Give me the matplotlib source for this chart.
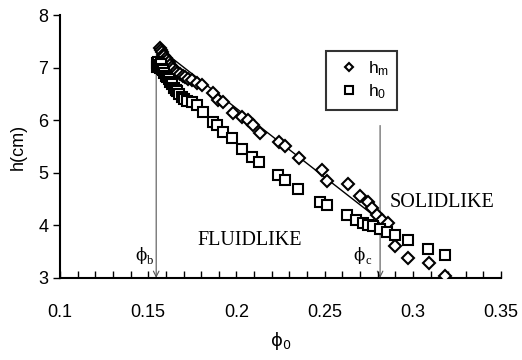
import matplotlib
matplotlib.use("Agg")
import matplotlib.pyplot as plt
from matplotlib.ticker import MultipleLocator

plt.rcParams['font.family'] = ['Liberation Sans', 'DejaVu Sans']
plt.rcParams['mathtext.fontset'] = 'custom'
plt.rcParams['mathtext.rm'] = 'Liberation Sans'

# h_m (diamonds)
phi_m = [0.1565, 0.1572, 0.1578, 0.1585, 0.1592, 0.1600, 0.1608, 0.1615, 0.1625,
         0.1633, 0.1642, 0.1655, 0.1665, 0.1680, 0.1695, 0.1710, 0.1725, 0.1747,
         0.1775, 0.1803, 0.1869, 0.1897, 0.1926, 0.1983, 0.2030, 0.2068, 0.2096,
         0.2134, 0.2243, 0.2276, 0.2357, 0.2484, 0.2515, 0.2634, 0.2701, 0.2748,
         0.2767, 0.2795, 0.2824, 0.2861, 0.2899, 0.2974, 0.3094, 0.3183]
h_m = [7.38, 7.33, 7.30, 7.25, 7.22, 7.18, 7.15, 7.10, 7.05,
       7.02, 6.98, 6.93, 6.90, 6.88, 6.85, 6.82, 6.78, 6.76,
       6.70, 6.67, 6.51, 6.38, 6.35, 6.13, 6.07, 6.00, 5.91,
       5.75, 5.59, 5.51, 5.29, 5.05, 4.84, 4.79, 4.56, 4.45,
       4.33, 4.20, 4.10, 4.04, 3.60, 3.37, 3.28, 3.04]

# h_0 (squares)
phi_0 = [0.1550, 0.1552, 0.1555, 0.1560, 0.1565, 0.1570, 0.1578, 0.1585, 0.1592,
         0.1600, 0.1608, 0.1615, 0.1625, 0.1635, 0.1645, 0.1655, 0.1665, 0.1675,
         0.1690, 0.1705, 0.1720, 0.1747, 0.1775, 0.1812, 0.1869, 0.1888, 0.1926,
         0.1973, 0.2030, 0.2087, 0.2130, 0.2238, 0.2276, 0.2351, 0.2474, 0.2512,
         0.2625, 0.2678, 0.2719, 0.2748, 0.2776, 0.2814, 0.2852, 0.2899, 0.2974,
         0.3088, 0.3183]
h_0 = [7.08, 7.02, 7.10, 7.05, 7.00, 7.07, 6.98, 6.95, 6.90,
       6.85, 6.82, 6.78, 6.72, 6.68, 6.62, 6.58, 6.55, 6.50,
       6.45, 6.40, 6.36, 6.35, 6.29, 6.16, 5.97, 5.91, 5.78,
       5.66, 5.45, 5.31, 5.21, 4.96, 4.86, 4.69, 4.45, 4.39,
       4.20, 4.10, 4.04, 4.01, 3.98, 3.94, 3.88, 3.82, 3.72,
       3.55, 3.44]

fit_x = [0.157, 0.285]
fit_y = [7.35, 4.00]

phi_b, phi_b_top = 0.1545, 7.09
phi_c, phi_c_top = 0.2814, 5.9

fig = plt.figure(figsize=(5.22, 3.6), dpi=100)
ax = fig.add_axes([0.115, 0.228, 0.845, 0.730])

ax.plot(fit_x, fit_y, color='black', lw=1.0, zorder=2)
ax.plot(phi_m, h_m, linestyle='none', marker='D', ms=6, mfc='white',
        mec='black', mew=1.5, label=r'$\mathregular{h_m}$', zorder=3)
ax.plot(phi_0, h_0, linestyle='none', marker='s', ms=7, mfc='white',
        mec='black', mew=1.5, label=r'$\mathregular{h_0}$', zorder=3)

# boundary arrows
for xv, top in [(phi_b, phi_b_top), (phi_c, phi_c_top)]:
    ax.annotate('', xy=(xv, 3.0), xytext=(xv, top),
                arrowprops=dict(arrowstyle='->', color='#555555', lw=0.8,
                                shrinkA=0, shrinkB=0), zorder=1)

serif = ['Liberation Serif', 'DejaVu Serif']
ax.text(0.2077, 3.72, 'FLUIDLIKE', family=serif, fontsize=14.5,
        ha='center', va='center')
ax.text(0.3166, 4.43, 'SOLIDLIKE', family=serif, fontsize=14.5,
        ha='center', va='center')
ax.text(0.1493, 3.42, 'ϕ', family=['DejaVu Serif'], fontsize=12,
        ha='right', va='center')
ax.text(0.1495, 3.33, 'b', family=serif, fontsize=9, ha='left', va='center')
ax.text(0.2729, 3.42, 'ϕ', family=['DejaVu Serif'], fontsize=12,
        ha='right', va='center')
ax.text(0.2731, 3.33, 'c', family=serif, fontsize=9, ha='left', va='center')

ax.set_xlim(0.1, 0.35)
ax.set_ylim(3, 8)
ax.xaxis.set_minor_locator(MultipleLocator(0.01))
ax.yaxis.set_major_locator(MultipleLocator(1))
ax.set_xticks([0.1, 0.15, 0.2, 0.25, 0.3, 0.35])
ax.set_xticklabels(['0.1', '0.15', '0.2', '0.25', '0.3', '0.35'])

ax.spines['top'].set_visible(False)
ax.spines['right'].set_visible(False)
ax.spines['left'].set_linewidth(1.5)
ax.spines['bottom'].set_linewidth(1.5)
ax.tick_params(axis='x', which='both', direction='in', length=5, width=1.0,
               labelsize=13, pad=19)
ax.tick_params(axis='y', which='major', direction='out', length=5, width=1.0,
               labelsize=13)

ax.set_xlabel('ϕ$\\mathregular{_0}$', fontsize=13, family=['DejaVu Sans'],
              labelpad=6)
ax.set_ylabel('h(cm)', fontsize=13, labelpad=8)

leg = ax.legend(loc='upper left', bbox_to_anchor=(0.603, 0.865), fontsize=12.5,
                frameon=True, fancybox=False, handletextpad=0.2,
                markerscale=0.75, borderpad=0.5, labelspacing=0.25,
                handlelength=1.7, borderaxespad=0)
leg.get_frame().set_edgecolor('black')
leg.get_frame().set_linewidth(1.5)

fig.savefig('out.png', dpi=100)
